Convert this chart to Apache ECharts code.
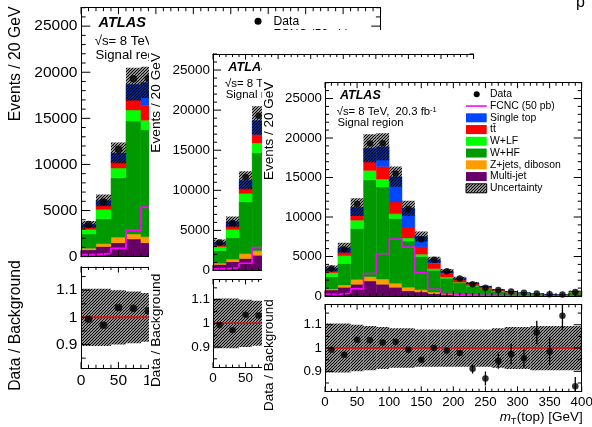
<!DOCTYPE html>
<html><head><meta charset="utf-8">
<script src="https://cdn.jsdelivr.net/npm/echarts@6/dist/echarts.min.js"></script>
<style>
html,body{margin:0;padding:0;background:#fff;width:592px;height:427px;overflow:hidden;position:relative}
.pane{position:absolute;background:#fff;overflow:hidden}
</style></head><body>
<div id="A" class="pane" style="left:0;top:0;width:592px;height:427px"></div>
<div id="B" class="pane" style="left:149px;top:30px;width:443px;height:397px"></div>
<div id="C" class="pane" style="left:262px;top:59px;width:330px;height:368px"></div>
<script>
// ---------------- data (events per 20 GeV bin) ----------------
const binEdges = [0,20,40,60,80,100,120,140,160,180,200,220,240,260,280,300,320,340,360,380,400];
const multiJet     = [750,1100,1500,1900,1500,1100,650,500,300,150,100,70,50,40,30,20,20,10,10,30];
const zJetsDiboson = [150,300,600,550,650,500,450,300,200,150,100,80,50,40,30,20,20,10,10,30];
const wHF          = [1550,2700,6450,12250,11650,8200,5850,4200,2750,1950,1450,1100,800,530,370,280,200,150,100,400];
const wLF          = [500,1000,1050,1200,1000,600,400,300,200,150,100,70,50,40,30,20,10,10,10,30];
const ttbar        = [250,450,650,1100,1600,1500,1400,950,700,450,300,200,150,100,70,50,30,25,20,70];
const singleTop    = [300,550,1000,1700,2500,3200,2350,1300,450,300,200,130,100,60,40,30,20,15,10,40];
const fcnc         = [200,350,900,2850,5350,7200,6200,2950,850,300,150,100,80,60,50,40,30,30,20,60];
const dataEvents   = [3480,5920,11650,19300,19350,15500,11020,7170,4600,3120,2200,1500,1040,770,555,400,320,217,182,500];
const bkgUncFrac   = [0.105,0.105,0.1,0.095,0.09,0.085,0.085,0.08,0.08,0.08,0.08,0.08,0.08,0.085,0.09,0.09,0.095,0.095,0.095,0.095];
const ratioData    = [0.993,0.971,1.036,1.033,1.024,1.027,0.993,0.95,1.0,0.99,0.979,0.911,0.869,0.946,0.974,0.956,1.067,0.986,1.139,0.836];
const ratioErr     = [0.004,0.004,0.003,0.003,0.003,0.003,0.004,0.005,0.006,0.007,0.008,0.02,0.03,0.035,0.045,0.04,0.05,0.06,0.06,0.04];
const xTickValues  = [0,50,100,150,200,250,300,350,400];
const yTickValues  = [0,5000,10000,15000,20000,25000];
const ratioTickValues = [0.9,1,1.1];
const ratioMinorTicks = [0.85,0.95,1.05,1.15];
const legendNames = ['Data','FCNC (50 pb)','Single top','t\u0074\u0304','W+LF','W+HF','Z+jets, diboson','Multi-jet','Uncertainty'];

const xMinorTicks = []; for (let v = 10; v < 400; v += 10) if (v % 50) xMinorTicks.push(v);
const yMinorTicks = []; for (let v = 1000; v <= 27000; v += 1000) if (v % 5000) yMinorTicks.push(v);

const FONT = '"Liberation Sans", Arial, Helvetica, sans-serif';
const COLORS = {mj:'#660066', z:'#ff9c00', whf:'#009a00', wlf:'#00ff00', tt:'#ff0000', st:'#0045ff', fcnc:'#ff00ff'};
const UPPER_RANGE = [0, 27000], RATIO_RANGE = [0.814, 1.186], X_RANGE = [0, 400];

function makeHatch(){
  const c = document.createElement('canvas'); c.width = 3; c.height = 3;
  const g = c.getContext('2d'); g.strokeStyle = '#000'; g.lineWidth = 1.25;
  g.beginPath(); g.moveTo(0,3); g.lineTo(3,0); g.moveTo(-1,1); g.lineTo(1,-1); g.moveTo(2,4); g.lineTo(4,2); g.stroke();
  return c;
}
const hatchFill = {image: makeHatch(), repeat: 'repeat'};

function rectSeries(name, low, high, fill, xi, yi, z, solid){
  return {
    type:'custom', name, xAxisIndex:xi, yAxisIndex:yi, z, clip:true, silent:true,
    data: low.map((l,i)=>[binEdges[i], binEdges[i+1], l, high[i]]),
    encode:{x:[0,1], y:[2,3]},
    renderItem:(p, api)=>{
      const a = api.coord([api.value(0), api.value(3)]);
      const b = api.coord([api.value(1), api.value(2)]);
      const st = solid ? {fill, stroke:fill, lineWidth:0.4} : {fill};
      return {type:'rect', shape:{x:a[0], y:a[1], width:b[0]-a[0], height:b[1]-a[1]}, style:st};
    }
  };
}

// frame ticks on all four sides, placed through the axes' scales
function tickSeries(xi, yi, yr, yMaj, yMin, Lx, Ly){
  const data = [];
  xTickValues.forEach(v=>data.push([0, v, Lx])); xMinorTicks.forEach(v=>data.push([0, v, Lx*0.55]));
  yMaj.forEach(v=>data.push([1, v, Ly])); yMin.forEach(v=>data.push([1, v, Ly*0.5]));
  const ls = {stroke:'#000', lineWidth:1};
  return {type:'custom', xAxisIndex:xi, yAxisIndex:yi, z:12, clip:false, silent:true, data,
    encode:{x:-1, y:-1},
    renderItem:(p, api)=>{
      const k = api.value(0), v = api.value(1), L = api.value(2);
      if (k === 0){
        const b = api.coord([v, yr[0]]), t = api.coord([v, yr[1]]);
        return {type:'group', children:[
          {type:'line', shape:{x1:b[0],y1:b[1],x2:b[0],y2:b[1]-L}, style:ls},
          {type:'line', shape:{x1:t[0],y1:t[1],x2:t[0],y2:t[1]+L}, style:ls}]};
      }
      const l = api.coord([X_RANGE[0], v]), r = api.coord([X_RANGE[1], v]);
      return {type:'group', children:[
        {type:'line', shape:{x1:l[0],y1:l[1],x2:l[0]+L,y2:l[1]}, style:ls},
        {type:'line', shape:{x1:r[0],y1:r[1],x2:r[0]-L,y2:r[1]}, style:ls}]};
    }};
}

function buildOption(s, fx, fy, extra){
  const W = 256.7*s, H1 = 213.3*s, G = 8.7*s, H2 = 86.7*s;
  const fy2 = fy + H1 + G;
  const lab = {fontFamily:FONT, fontSize:13.3*s, color:'#000'};
  const al = {show:true, onZero:false, lineStyle:{color:'#000', width:1}};
  const gb = {show:false, containLabel:false, outerBoundsMode:'none'};
  const grid = [Object.assign({left:fx, top:fy, width:W, height:H1}, gb), Object.assign({left:fx, top:fy2, width:W, height:H2}, gb)];
  const mkX = (gi,pos,show)=>({type:'value', gridIndex:gi, position:pos, min:X_RANGE[0], max:X_RANGE[1], interval:50, z:11,
    axisLine:al, splitLine:{show:false}, axisTick:{show:false},
    axisLabel:Object.assign({show:show, customValues:xTickValues, margin:4*s, formatter:v=>String(v)}, lab)});
  const xAxis = [mkX(0,'bottom',false), mkX(0,'top',false), mkX(1,'bottom',true), mkX(1,'top',false)];
  const mkY = (gi,pos,rng,vals,show,fmt)=>({type:'value', gridIndex:gi, position:pos, min:rng[0], max:rng[1], z:11,
    axisLine:al, splitLine:{show:false}, axisTick:{show:false},
    axisLabel:Object.assign({show:show, customValues:vals, margin:3*s, formatter:fmt}, lab)});
  const yAxis = [
    mkY(0,'left',UPPER_RANGE,yTickValues,true,v=>String(v)), mkY(0,'right',UPPER_RANGE,yTickValues,false,v=>String(v)),
    mkY(1,'left',RATIO_RANGE,ratioTickValues,true,v=>String(Math.round(v*10)/10)), mkY(1,'right',RATIO_RANGE,ratioTickValues,false,v=>String(v))];

  const series = [];
  const comps = [[multiJet,COLORS.mj,'Multi-jet'],[zJetsDiboson,COLORS.z,'Z+jets, diboson'],[wHF,COLORS.whf,'W+HF'],
                 [wLF,COLORS.wlf,'W+LF'],[ttbar,COLORS.tt,'tt'],[singleTop,COLORS.st,'Single top']];
  let base = binEdges.slice(1).map(()=>0);
  comps.forEach(([arr,col,nm])=>{
    const top = base.map((b,i)=>b+arr[i]);
    series.push(rectSeries(nm, base, top, col, 0, 0, 2, true));
    base = top;
  });
  const total = base;
  series.push(rectSeries('Uncertainty', total.map((t,i)=>t*(1-bkgUncFrac[i])), total.map((t,i)=>t*(1+bkgUncFrac[i])), hatchFill, 0, 0, 3, false));
  const fcncPts = fcnc.map((v,i)=>[binEdges[i], v]); fcncPts.push([400, fcnc[fcnc.length-1]]);
  series.push({type:'line', name:'FCNC', xAxisIndex:0, yAxisIndex:0, step:'end', data:fcncPts, symbol:'none', showSymbol:false,
    lineStyle:{color:COLORS.fcnc, width:1.6*s}, z:4, silent:true});
  const centers = binEdges.slice(0,-1).map((e,i)=>(e+binEdges[i+1])/2);
  series.push({type:'scatter', name:'Data', xAxisIndex:0, yAxisIndex:0, data:centers.map((c,i)=>[c,dataEvents[i]]),
    symbol:'circle', symbolSize:6.5*s, itemStyle:{color:'#000'}, z:5, silent:true});
  series.push(tickSeries(0, 0, UPPER_RANGE, yTickValues, yMinorTicks, 5.5*s, 8*s));
  // ratio panel
  series.push(rectSeries('UncRatio', bkgUncFrac.map(u=>1-u), bkgUncFrac.map(u=>1+u), hatchFill, 2, 2, 3, false));
  series.push({type:'line', xAxisIndex:2, yAxisIndex:2, data:[[0,1],[400,1]], symbol:'none', lineStyle:{color:'#ff0000', width:1.5*s}, z:4, silent:true});
  series.push({type:'custom', xAxisIndex:2, yAxisIndex:2, z:5, clip:true, silent:true,
    data:centers.map((c,i)=>[c, ratioData[i]-ratioErr[i], ratioData[i]+ratioErr[i]]),
    encode:{x:0, y:[1,2]},
    renderItem:(p,api)=>{
      const a = api.coord([api.value(0), api.value(1)]), b = api.coord([api.value(0), api.value(2)]);
      return {type:'line', shape:{x1:a[0],y1:a[1],x2:b[0],y2:b[1]}, style:{stroke:'#000', lineWidth:1.3*s}};
    }});
  series.push({type:'scatter', xAxisIndex:2, yAxisIndex:2, data:centers.map((c,i)=>[c,ratioData[i]]), clip:true,
    symbol:'circle', symbolSize:6.5*s, itemStyle:{color:'#000'}, z:6, silent:true});
  series.push(tickSeries(2, 2, RATIO_RANGE, ratioTickValues, ratioMinorTicks, 5*s, 8*s));

  // texts & legend
  const P = (dx,dy)=>[fx+dx*s, fy+dy*s];
  const txt = (dx,dy,text,size,o)=>{const p=P(dx,dy); return {type:'text', x:p[0], y:p[1], z:100, silent:true,
    style:Object.assign({text, fill:'#000', fontFamily:FONT, fontSize:size*s, align:'left', verticalAlign:'middle'}, o||{})};};
  const g = [];
  g.push(txt(15,13.3,'ATLAS',12.5,{fontWeight:'bold', fontStyle:'italic'}));
  g.push(txt(11.7,29,'\u221As= 8 TeV,  20.3 fb{sup|-1}',11.3,{rich:{sup:{fontFamily:FONT,fontSize:7.5*s,verticalAlign:'top',fill:'#000'}}}));
  g.push(txt(12.5,40.6,'Signal region',11.3));
  const legCols = [null,null,COLORS.st,COLORS.tt,COLORS.wlf,COLORS.whf,COLORS.z,COLORS.mj,'hatch'];
  legendNames.forEach((nm,k)=>{
    const cy = 11.6 + 11.75*k;
    if(k===0){ const p=P(151.7,cy); g.push({type:'circle', z:100, silent:true, shape:{cx:p[0],cy:p[1],r:3*s}, style:{fill:'#000'}}); }
    else if(k===1){ const a=P(141,cy), b=P(161.7,cy); g.push({type:'line', z:100, silent:true, shape:{x1:a[0],y1:a[1],x2:b[0],y2:b[1]}, style:{stroke:COLORS.fcnc, lineWidth:1.6*s}}); }
    else { const p=P(141,cy-4.5); const hat = legCols[k]==='hatch';
      g.push({type:'rect', z:100, silent:true, shape:{x:p[0],y:p[1],width:20.7*s,height:9*s},
        style: hat ? {fill:hatchFill, stroke:'#000', lineWidth:1} : {fill:legCols[k]}}); }
    g.push(txt(165,cy,nm,10.4));
  });
  // axis titles
  let p = P(-56,-1);
  g.push({type:'text', x:p[0], y:p[1], rotation:Math.PI/2, z:100, silent:true,
    style:{text:'Events / 20 GeV', fill:'#000', fontFamily:FONT, fontSize:13.5*s, align:'right', verticalAlign:'middle'}});
  g.push({type:'text', x:fx-56*s, y:fy2+H2/2+7*s, rotation:Math.PI/2, z:100, silent:true,
    style:{text:'Data / Background', fill:'#000', fontFamily:FONT, fontSize:13.5*s, align:'center', verticalAlign:'middle'}});
  g.push({type:'text', x:fx+W+1*s, y:fy+335*s, z:100, silent:true,
    style:{text:'{i|m}{sb|T}(top) [GeV]', fill:'#000', fontFamily:FONT, fontSize:13.5*s, align:'right', verticalAlign:'middle', lineHeight:17*s,
      rich:{i:{fontFamily:FONT, fontSize:13.5*s, fontStyle:'italic', fill:'#000'}, sb:{fontFamily:FONT, fontSize:9.5*s, verticalAlign:'bottom', fill:'#000'}}}});
  (extra||[]).forEach(e=>g.push(e));
  return {animation:false, backgroundColor:'#fff', grid, xAxis, yAxis, series, graphic:g};
}

const extraA = [{type:'text', x:576, y:3, z:100, silent:true, style:{text:'p', fill:'#000', fontFamily:FONT, fontSize:16, align:'left', verticalAlign:'middle'}}];
echarts.init(document.getElementById('A')).setOption(buildOption(1.167, 81, 7.7, extraA));
echarts.init(document.getElementById('B')).setOption(buildOption(1.015, 64, 24));
echarts.init(document.getElementById('C')).setOption(buildOption(1.0, 63, 23.7));
</script>
</body></html>
